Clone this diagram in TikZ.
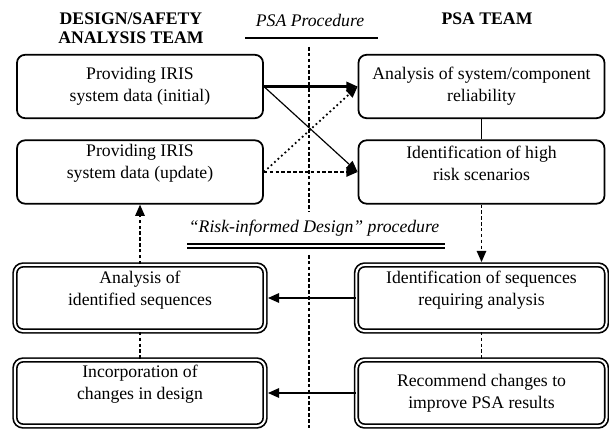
\documentclass[tikz,border=0pt]{standalone}
\usepackage{fontspec}
\setmainfont{Liberation Serif}
\usetikzlibrary{arrows.meta}

\begin{document}
\begin{tikzpicture}[x=0.03cm,y=-0.03cm,>/.tip={Triangle[length=0.34cm,width=0.28cm]},
	font=\fontsize{15.1}{18.8}\selectfont,
	box/.style={draw,rounded corners=0.24cm,line width=1.5pt,minimum width=7.38cm,minimum height=1.9cm},
	dbox/.style={draw,double,double distance=0.06cm,line width=0.05cm,rounded corners=0.24cm,minimum width=7.5cm,minimum height=1.98cm},
	txt/.style={align=center,inner sep=0pt},
	head/.style={align=center,inner sep=0pt,font=\fontsize{15.1}{16.5}\selectfont\bfseries},
	flow/.style={->,line width=2pt},
	flowthin/.style={->,line width=1pt},
	dashline/.style={line width=1.6pt,dash pattern=on 3pt off 2pt},
	dotline/.style={line width=1.5pt,dash pattern=on 1.5pt off 2.5pt}]
	\useasboundingbox (0,0) rectangle (609,429);

	\draw (131,28) node (hdrL) [head] {DESIGN/SAFETY\\ANALYSIS TEAM};
	\draw (310,20) node (hdrC) [txt,font=\fontsize{15.1}{18.8}\selectfont\itshape] {PSA Procedure};
	\draw (487,19) node (hdrR) [head] {PSA TEAM};
	\coordinate (procL) at (245,38);
	\coordinate (procR) at (378,38);
	\draw[line width=1.8pt] (procL) -- (procR);

	\coordinate (midA) at (309,47);
	\coordinate (midB) at (309,212);
	\coordinate (midC) at (309,255);
	\coordinate (midD) at (309,429);
	\draw[dashline] (midA) -- (midB) (midC) -- (midD);

	\draw (314,228) node (risk) [txt,font=\fontsize{15.1}{18.8}\selectfont\itshape] {“Risk-informed Design” procedure};
	\coordinate (rkL) at (187,246);
	\coordinate (rkR) at (445,246);
	\draw[double,double distance=0.06cm,line width=0.05cm] (rkL) -- (rkR);

	\draw (140,86.5) node (initial) [box] {};
	\draw (140,86) node (initialT) [txt] {Providing IRIS\\system data (initial)};
	\draw (481.5,86.5) node (relia) [box] {};
	\draw (481.5,86) node (reliaT) [txt] {Analysis of system/component\\reliability};
	\draw (140,172) node (update) [box] {};
	\draw (140,163) node (updateT) [txt] {Providing IRIS\\system data (update)};
	\draw (481.5,172) node (risksc) [box] {};
	\draw (481.5,163) node (riskscT) [txt] {Identification of high\\risk scenarios};

	\draw (140,298) node (seqL) [dbox] {};
	\draw (140,290) node (seqLT) [txt] {Analysis of\\identified sequences};
	\draw (481.5,298) node (seqR) [dbox] {};
	\draw (481.5,290) node (seqRT) [txt] {Identification of sequences\\requiring analysis};
	\draw (140,393) node (incorp) [dbox] {};
	\draw (140,384) node (incorpT) [txt] {Incorporation of\\changes in design};
	\draw (481.5,393) node (recomm) [dbox] {};
	\draw (481.5,393) node (recommT) [txt] {Recommend changes to\\improve PSA results};

	\draw[flow] (initial) -- (relia);
	\draw[flowthin] (initial.east) -- (risksc.west);
	\draw[->,dotline] (update.east) -- (relia.west);
	\draw[->,dashline] (update) -- (risksc);
	\draw[line width=1.5pt] (relia) -- (risksc);
	\draw[->,dashline,shorten >=0.06cm] (risksc) -- (seqR);
	\draw[->,dashline] (seqL) -- (update);
	\draw[flow,shorten >=0.06cm] (seqR) -- (seqL);
	\draw[flow,shorten >=0.06cm] (recomm) -- (incorp);
	\draw[dashline] (seqL) -- (incorp) (seqR) -- (recomm);
\end{tikzpicture}
\end{document}
